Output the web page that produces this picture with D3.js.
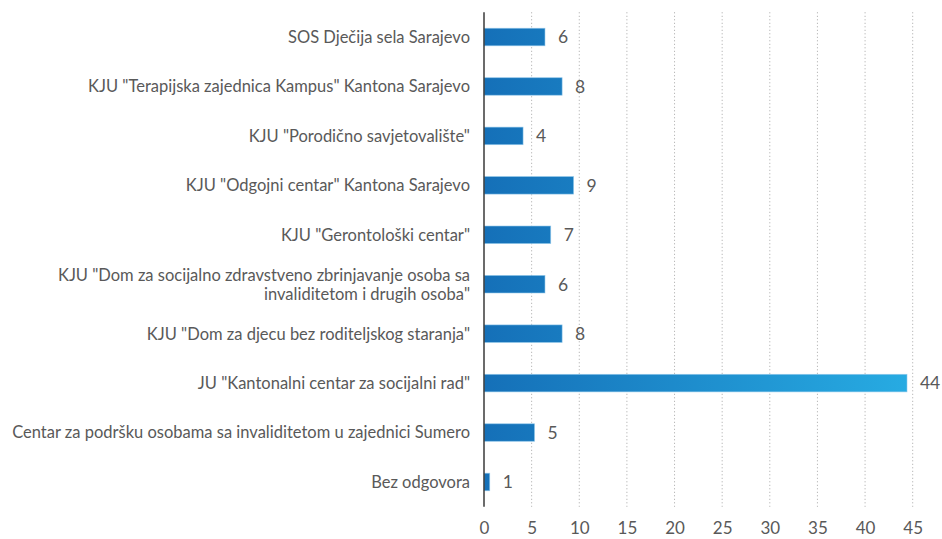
<!DOCTYPE html>
<html>
<head>
<meta charset="utf-8">
<script src="https://cdn.jsdelivr.net/npm/d3@7"></script>
<style>
  html, body { margin: 0; padding: 0; background: #fff; }
  svg { display: block; }
</style>
</head>
<body>
<svg id="chart" width="942" height="539"></svg>
<script>
const categories = [
  ["SOS Dječija sela Sarajevo"],
  ["KJU \"Terapijska zajednica Kampus\" Kantona Sarajevo"],
  ["KJU \"Porodično savjetovalište\""],
  ["KJU \"Odgojni centar\" Kantona Sarajevo"],
  ["KJU \"Gerontološki centar\""],
  ["KJU \"Dom za socijalno zdravstveno zbrinjavanje osoba sa", "invaliditetom i drugih osoba\""],
  ["KJU \"Dom za djecu bez roditeljskog staranja\""],
  ["JU \"Kantonalni centar za socijalni rad\""],
  ["Centar za podršku osobama sa invaliditetom u zajednici Sumero"],
  ["Bez odgovora"]
];
const values = [6.4, 8.2, 4.1, 9.4, 7.0, 6.4, 8.2, 44.4, 5.3, 0.6];
const valueLabels = ["6", "8", "4", "9", "7", "6", "8", "44", "5", "1"];
const xTicks = [0, 5, 10, 15, 20, 25, 30, 35, 40, 45];

const font = "Lato, 'Open Sans', sans-serif";
const svg = d3.select("#chart");
const x0 = 484, x1 = 912.7, yTop = 12.3, yBot = 506.7;

const x = d3.scaleLinear().domain([0, 45]).range([x0, x1]);
const idx = d3.range(categories.length);
const y = d3.scaleBand().domain(idx).range([yTop, yBot]).paddingInner(0.646).paddingOuter(0.323);

const defs = svg.append("defs");
const grad = defs.append("linearGradient")
  .attr("id", "barGrad")
  .attr("gradientUnits", "userSpaceOnUse")
  .attr("x1", x(0)).attr("x2", x(44.4)).attr("y1", 0).attr("y2", 0);
grad.append("stop").attr("offset", "0%").attr("stop-color", "#1570b8");
grad.append("stop").attr("offset", "100%").attr("stop-color", "#27abe2");

// gridlines
svg.append("g")
  .selectAll("line")
  .data(xTicks.filter(d => d > 0))
  .join("line")
  .attr("x1", d => x(d)).attr("x2", d => x(d))
  .attr("y1", yTop).attr("y2", yBot)
  .attr("stroke", "#a6a6a6")
  .attr("stroke-width", 1)
  .attr("stroke-dasharray", "1,2.5");

// bars
svg.append("g")
  .selectAll("rect")
  .data(values)
  .join("rect")
  .attr("x", x(0))
  .attr("y", (d, i) => y(i))
  .attr("width", d => x(d) - x(0))
  .attr("height", y.bandwidth())
  .attr("fill", "url(#barGrad)")
  .attr("stroke", "#8cc4ea")
  .attr("stroke-opacity", 0.7)
  .attr("stroke-width", 0.8);

// value labels
svg.append("g")
  .selectAll("text")
  .data(values)
  .join("text")
  .attr("x", d => x(d) + 13)
  .attr("y", (d, i) => y(i) + y.bandwidth() / 2)
  .attr("dy", "0.36em")
  .attr("font-family", font)
  .attr("font-size", 17.5)
  .attr("fill", "#595959")
  .text((d, i) => valueLabels[i]);

// y axis line
svg.append("line")
  .attr("x1", x(0)).attr("x2", x(0))
  .attr("y1", yTop).attr("y2", yBot)
  .attr("stroke", "#3a3a3a")
  .attr("stroke-width", 1.5);

// category labels
const catG = svg.append("g");
categories.forEach((lines, i) => {
  const cy = y(i) + y.bandwidth() / 2;
  const lh = 19;
  const t = catG.append("text")
    .attr("text-anchor", "end")
    .attr("font-family", font)
    .attr("font-size", 16.5)
    .attr("fill", "#595959");
  lines.forEach((ln, j) => {
    t.append("tspan")
      .attr("x", 470)
      .attr("y", cy + (j - (lines.length - 1) / 2) * lh)
      .attr("dy", "0.36em")
      .text(ln);
  });
});

// x axis tick labels
const xAxis = d3.axisBottom(x).tickValues(xTicks).tickSize(0).tickPadding(0);
const gx = svg.append("g")
  .attr("transform", `translate(0, ${yBot + 15})`)
  .call(xAxis);
gx.select(".domain").remove();
gx.selectAll("text")
  .attr("font-family", font)
  .attr("font-size", 17)
  .attr("fill", "#595959");
</script>
</body>
</html>
